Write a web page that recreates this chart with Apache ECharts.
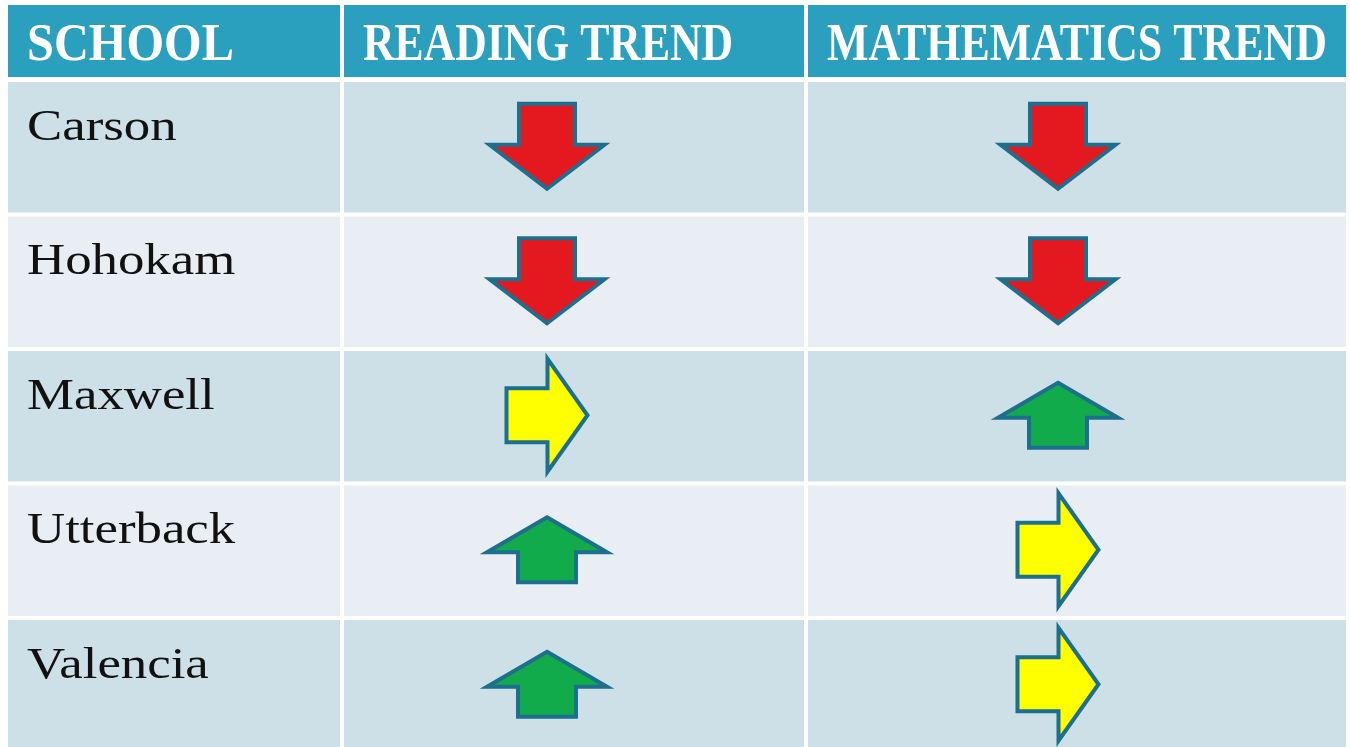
<!DOCTYPE html>
<html>
<head>
<meta charset="utf-8">
<title>School trends</title>
<script src="https://cdn.jsdelivr.net/npm/echarts@6/dist/echarts.min.js"></script>
<style>
  html, body { margin: 0; padding: 0; background: #ffffff; }
  #chart { width: 1350px; height: 747px; }
</style>
</head>
<body>
<div id="chart"></div>
<script>
// table content
const headers = ['SCHOOL', 'READING TREND', 'MATHEMATICS TREND']
const schools = ['Carson', 'Hohokam', 'Maxwell', 'Utterback', 'Valencia']
const readingTrend = ['down', 'down', 'flat', 'up', 'up']
const mathTrend = ['down', 'down', 'up', 'flat', 'flat']

// layout (x axis units = pixels from the grid's left edge, y axis units = rows)
const colEdges = [0, 336, 800, 1338]
const arrowX = [539, 1050]
const gap = 4
const headerScale = [0.93, 0.84, 0.845]

const trendColor = { down: '#e4191f', up: '#12ab4b', flat: '#ffff00' }
const outline = '#1d6f8e'

// arrow outlines around a centre point
const arrowPoints = (type, cx, cy) => {
  let pts
  if (type === 'down') {
    pts = [[-28, -42.5], [28, -42.5], [28, -1.5], [57.5, -1.5], [0, 42.5], [-57.5, -1.5], [-28, -1.5]]
  } else if (type === 'up') {
    pts = [[0, -32.5], [60, 2.5], [29, 2.5], [29, 32.5], [-29, 32.5], [-29, 2.5], [-60, 2.5]]
  } else {
    pts = [[-40.5, -27], [0.5, -27], [0.5, -56.5], [40.5, 0], [0.5, 56.5], [0.5, 27], [-40.5, 27]]
  }
  return pts.map(p => [cx + p[0], cy + p[1]])
}

const chart = echarts.init(document.getElementById('chart'), null, { renderer: 'canvas' })

const renderRow = (params, api) => {
  const i = api.value(0)
  const mid = api.coord([0, i])
  const bandH = api.size([0, 1])[1]
  const top = mid[1] - bandH / 2
  const h = bandH - gap
  const fill = i % 2 === 0 ? '#cddfe7' : '#e8eef4'
  const children = []

  for (let c = 0; c < 3; c++) {
    const x0 = api.coord([colEdges[c], i])[0]
    const x1 = api.coord([colEdges[c + 1], i])[0] - (c < 2 ? gap : 0)
    children.push({
      type: 'rect',
      shape: { x: x0, y: top, width: x1 - x0, height: h },
      style: { fill: fill }
    })
  }

  children.push({
    type: 'text',
    x: api.coord([colEdges[0], i])[0] + 19,
    y: top + 46,
    scaleX: 1.2,
    style: {
      text: schools[i],
      x: 0,
      y: 0,
      font: '44px "Liberation Serif"',
      fill: '#111111',
      textAlign: 'left',
      textVerticalAlign: 'middle'
    }
  })

  const trends = [readingTrend[i], mathTrend[i]]
  trends.forEach((t, k) => {
    const cx = api.coord([arrowX[k], i])[0]
    const cy = top + h / 2 - 1
    children.push({
      type: 'polygon',
      shape: { points: arrowPoints(t, cx, cy) },
      style: { fill: trendColor[t], stroke: outline, lineWidth: 4, lineJoin: 'miter' }
    })
  })

  return { type: 'group', children: children }
}

const headerGraphics = headers.map((name, c) => ({
  type: 'group',
  children: [
    {
      type: 'rect',
      shape: {
        x: 8 + colEdges[c],
        y: 5,
        width: colEdges[c + 1] - colEdges[c] - (c < 2 ? gap : 0),
        height: 72
      },
      style: { fill: '#2ba0be' }
    },
    {
      type: 'text',
      x: 8 + colEdges[c] + 19,
      y: 47,
      scaleX: headerScale[c],
      style: {
        text: name,
        x: 0,
        y: 0,
        font: 'bold 52px "Liberation Serif"',
        fill: '#ffffff',
        textAlign: 'left',
        textVerticalAlign: 'middle'
      }
    }
  ]
}))

// rows are 134.5px tall; the last one runs off the bottom edge
const option = {
  backgroundColor: '#ffffff',
  animation: false,
  grid: { left: 8, top: 82, width: 1338, height: 665 },
  xAxis: { type: 'value', min: 0, max: 1338, show: false },
  yAxis: { type: 'value', inverse: true, min: -0.5, max: 665 / 134.5 - 0.5, show: false },
  graphic: headerGraphics,
  series: [
    {
      type: 'custom',
      renderItem: renderRow,
      data: schools.map((s, i) => [i]),
      encode: { y: 0 },
      clip: false
    }
  ]
}

chart.setOption(option)
window.addEventListener('resize', () => chart.resize())
</script>
</body>
</html>
